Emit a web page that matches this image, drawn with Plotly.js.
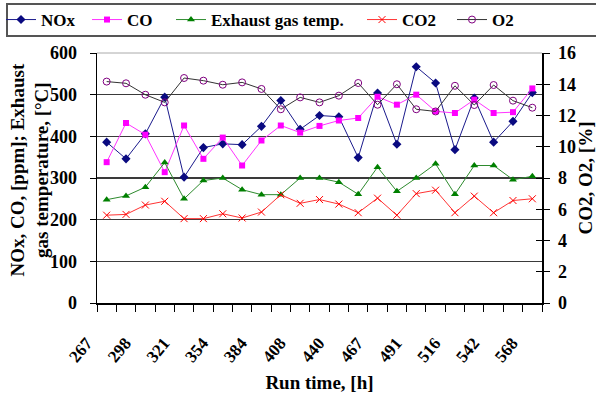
<!DOCTYPE html>
<html><head><meta charset="utf-8">
<script src="https://cdn.plot.ly/plotly-3.0.1.min.js"></script>
<style>html,body{margin:0;padding:0;background:#fff}#chart{width:596px;height:405px}</style>
</head><body><div id="chart"></div>
<script>
// Sample order (x position index of each measurement)
const pointIndex = [0,1,2,3,4,5,6,7,8,9,10,11,12,13,14,15,16,17,18,19,20,21,22];
// Labelled run times (every second sample)
const tickPositions = [0,2,4,6,8,10,12,14,16,18,20,22];
const tickLabels = ['267','298','321','354','384','408','440','467','491','516','542','568'];

// Left axis series
const nox = [386,346,406,494,302,373,382,380,424,486,417,450,447,349,504,381,567,528,368,492,386,436,505];
const co = [338,432,404,314,426,346,397,330,390,426,409,425,438,444,495,476,500,460,456,488,456,458,515];
const exhaustTemp = [248,257,278,337,250,294,300,272,260,260,300,300,290,261,326,268,300,334,261,330,330,296,304];
// Right axis series
const co2 = [5.62,5.67,6.27,6.51,5.4,5.4,5.71,5.44,5.82,6.93,6.38,6.62,6.33,5.78,6.71,5.62,7.0,7.22,5.78,6.84,5.78,6.56,6.67];
const o2 = [14.17,14.06,13.33,12.84,14.4,14.23,13.97,14.12,13.7,12.4,13.16,12.84,13.27,14.08,12.69,14.0,12.4,12.26,13.9,12.67,13.95,12.95,12.5];

const leftTitle = 'NOx, CO, [ppm]; Exhaust<br>gas temperature, [°C]';
const rightTitle = 'CO2, O2, [%]';
const xTitle = 'Run time, [h]';

const FONT = '"Liberation Serif", "Times New Roman", serif';
const W = 596, H = 405, ML = 97, MR = 54, MT = 53, MB = 102;
const PW = W - ML - MR, PH = H - MT - MB;
const px2x = p => (p - ML) / PW;
const py2y = p => (H - MB - p) / PH;

const traces = [
  {name:'NOx', legend:'legend', x:pointIndex, y:nox, mode:'lines+markers', yaxis:'y',
   line:{color:'#1a1a8c', width:1}, marker:{symbol:'diamond', size:7, color:'#0a0a80'}},
  {name:'CO', legend:'legend2', x:pointIndex, y:co, mode:'lines+markers', yaxis:'y',
   line:{color:'#ff33ff', width:1}, marker:{symbol:'square', size:6, color:'#ff00ff'}},
  {name:'Exhaust gas temp.', legend:'legend3', x:pointIndex, y:exhaustTemp, mode:'lines+markers', yaxis:'y',
   line:{color:'#2e8b2e', width:1}, marker:{symbol:'triangle-up', size:7, color:'#008000'}},
  {name:'CO2', legend:'legend4', x:pointIndex, y:co2, mode:'lines+markers', yaxis:'y2',
   line:{color:'#ff3333', width:1}, marker:{symbol:'x-thin', size:7, line:{color:'#ff0000', width:1}, color:'#ff0000'}},
  {name:'O2', legend:'legend5', x:pointIndex, y:o2, mode:'lines+markers', yaxis:'y2',
   line:{color:'#333333', width:1}, marker:{symbol:'circle-open', size:7, color:'#800080', line:{width:1}}}
];
traces.push({x:[pointIndex[0]], y:[null], yaxis:'y3', showlegend:false, hoverinfo:'skip', mode:'markers'});

const legFont = {family:FONT, size:17, weight:'bold', color:'#000'};
function leg(textPx) {
  return {orientation:'h', x:px2x(textPx - 46), y:py2y(20), xanchor:'left', yanchor:'middle',
    borderwidth:0, bgcolor:'rgba(0,0,0,0)', font:legFont, itemwidth:30};
}

const tickFont = {family:FONT, size:18, weight:'bold', color:'#000'};
const xTickFont = {family:FONT, size:17, weight:'bold', color:'#000'};
const titleFont = {family:FONT, size:19, weight:'bold', color:'#000'};

const layout = {
  width:W, height:H,
  margin:{l:ML, r:MR, t:MT, b:MB, autoexpand:false},
  paper_bgcolor:'#ffffff', plot_bgcolor:'#ffffff',
  font:{family:FONT, size:16, color:'#000', weight:'bold'},
  showlegend:true,
  legend:leg(47), legend2:leg(133), legend3:leg(217), legend4:leg(408), legend5:leg(498),
  xaxis:{range:[-0.5,22.5], tickmode:'array', tickvals:tickPositions, ticktext:tickLabels,
    tickangle:-50, ticks:'', showgrid:false, zeroline:false, ticklabelstandoff:22, ticklabelshift:-20,
    showline:true, linecolor:'#000', linewidth:1.5, automargin:false,
    minor:{tick0:-0.5, dtick:1, ticks:'outside', ticklen:7, tickcolor:'#000', showgrid:false},
    tickfont:xTickFont,
    title:{text:xTitle, font:titleFont, standoff:10}},
  yaxis:{range:[0,600], dtick:100, ticks:'outside', ticklen:6, tickcolor:'#000', automargin:false,
    showline:true, linecolor:'#000', linewidth:1.5, zeroline:false,
    showgrid:true, gridcolor:'#3a3a3a', gridwidth:1.6, ticklabelstandoff:9,
    tickfont:tickFont},
  yaxis2:{range:[0,16], dtick:2, overlaying:'y', side:'right', ticks:'outside', ticklen:6, tickcolor:'#000',
    showline:true, linecolor:'#000', linewidth:1.5, zeroline:false, showgrid:false, automargin:false,
    tickfont:tickFont, ticklabelstandoff:5,
    title:{text:rightTitle, font:titleFont, standoff:13}},
  yaxis3:{range:[0,16], dtick:2, overlaying:'y', side:'right', ticks:'inside', ticklen:6, tickcolor:'#000',
    showticklabels:false, showline:false, zeroline:false, showgrid:false},
  annotations:[
    {text:leftTitle, xref:'paper', yref:'paper', x:px2x(29.5), y:py2y(170), xanchor:'center', yanchor:'middle',
     textangle:-90, showarrow:false, font:titleFont, align:'center'}
  ],
  shapes:[
    {type:'line', xref:'paper', yref:'paper', x0:0, x1:1, y0:1, y1:1, line:{color:'#aaa', width:1}},
    {type:'rect', xref:'paper', yref:'paper', x0:px2x(7), x1:px2x(600), y0:py2y(36), y1:py2y(4),
     line:{color:'#555', width:2}, fillcolor:'rgba(0,0,0,0)'}
  ]
};

Plotly.newPlot('chart', traces, layout, {displayModeBar:false, staticPlot:true});
</script>
</body></html>
